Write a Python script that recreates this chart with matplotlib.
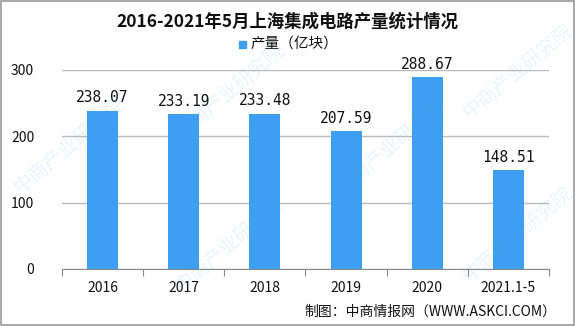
import matplotlib.pyplot as plt
from matplotlib.patches import Rectangle

plt.rcParams['font.family'] = ['Noto Sans CJK SC', 'DejaVu Sans']

# Shanghai IC output, 100 million units
years = ['2016', '2017', '2018', '2019', '2020', '2021.1-5']
output = [238.07, 233.19, 233.48, 207.59, 288.67, 148.51]
bar_color = '#3E9EF1'

fig = plt.figure(figsize=(5.75, 3.26), dpi=100)
ax = fig.add_axes([62 / 575, 1 - 269 / 326, (549 - 62) / 575, (269 - 69.5) / 326])

x = range(len(years))
bars = ax.bar(x, output, width=0.38, color=bar_color, zorder=3, label='产量（亿块）')
for xi, v in zip(x, output):
    ax.text(xi, v + 8, f'{v:.2f}', ha='center', va='bottom', fontsize=10.5,
            family=['DejaVu Sans Mono'], color='#111111', zorder=4)

ax.set_xlim(-0.5, len(years) - 0.5)
ax.set_ylim(0, 300)
ax.set_yticks([0, 100, 200, 300])
ax.set_xticks([i - 0.5 for i in range(len(years) + 1)], minor=False)
ax.set_xticklabels([])
ax.set_xticks(list(x), minor=True)
ax.set_xticklabels(years, minor=True, fontsize=10)
ax.tick_params(axis='x', which='major', length=5, color='#888888')
ax.tick_params(axis='x', which='minor', length=0, pad=9, labelcolor='#111111')
ax.tick_params(axis='y', length=0, labelsize=10, pad=20, labelcolor='#111111')
ax.grid(axis='y', color='#BBBBBB', linewidth=1, zorder=0)
for side in ['top', 'right', 'left']:
    ax.spines[side].set_visible(False)
ax.spines['bottom'].set_color('#888888')

# faint diagonal watermarks
for wx, wy in [(0.12, 0.55), (0.40, 0.72), (0.40, 0.25), (0.68, 0.55),
               (0.90, 0.78), (0.90, 0.28)]:
    fig.text(wx, wy, '中商产业研究院', rotation=40, fontsize=14, color='#4FA8E8',
             alpha=0.13, ha='center', va='center', zorder=0)

fig.text(0.5, 1 - 22 / 326, '2016-2021年5月上海集成电路产量统计情况', ha='center', va='center',
         fontsize=12.5, fontweight='bold', color='#111111')
fig.patches.append(Rectangle((239 / 575, 1 - 48 / 326), 7 / 575, 7 / 326,
                             transform=fig.transFigure, color=bar_color))
fig.text(250 / 575, 1 - 44 / 326, '产量（亿块）', ha='left', va='center',
         fontsize=10.5, color='#111111')
fig.text(556 / 575, 1 - 312 / 326, '制图：中商情报网（WWW.ASKCI.COM）', ha='right', va='center',
         fontsize=10, color='#111111')

# outer frame
fig.patches.append(Rectangle((0.001, 0.002), 0.997, 0.995, transform=fig.transFigure,
                             fill=False, edgecolor='#999999', linewidth=1.2))

fig.savefig('out.png', dpi=100)
